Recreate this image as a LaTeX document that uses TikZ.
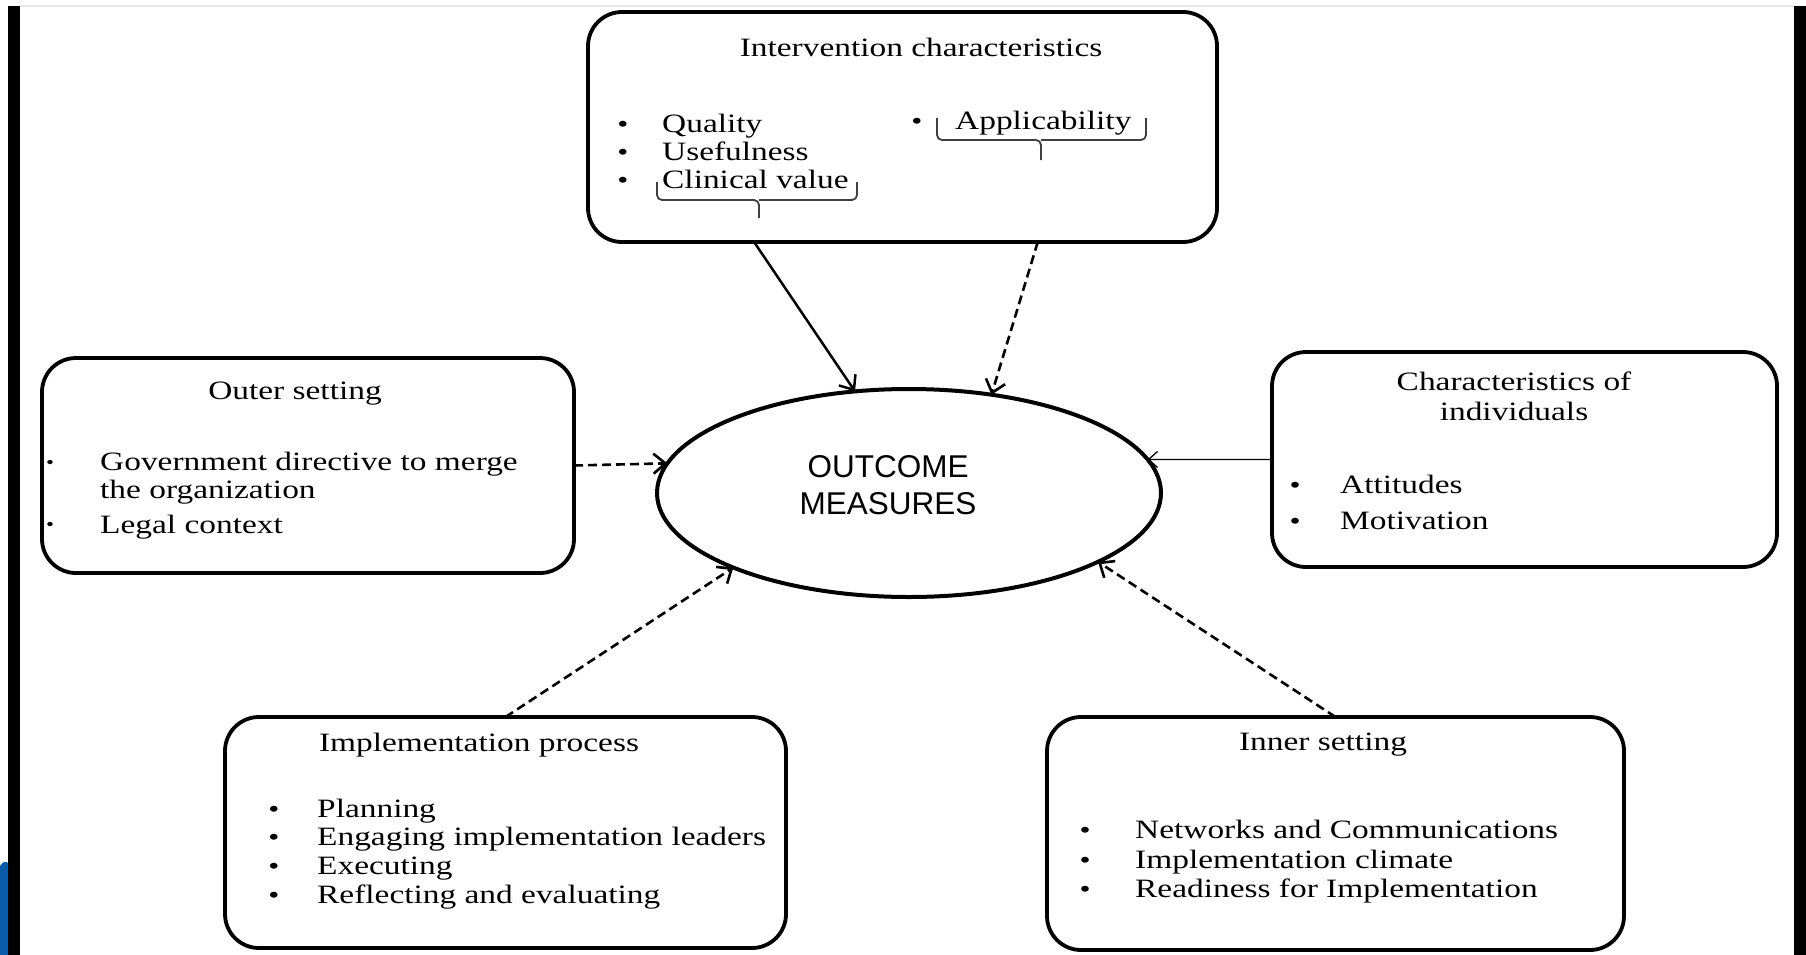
\documentclass[tikz,border=0pt]{standalone}
\usepackage{fontspec}
\setmainfont[FakeStretch=1.26]{Liberation Serif}
\newfontfamily\arialf{Liberation Sans}
\usetikzlibrary{arrows.meta,calc,shapes.geometric}
\definecolor{slideblue}{HTML}{0B5AA8}
\definecolor{topgray}{HTML}{E6E6E6}
\begin{document}
\begin{tikzpicture}[x=1pt,y=-1pt,
  box/.style={draw, line width=3.8pt, rounded corners=34pt, inner sep=0pt, outer sep=0pt, rectangle},
  oval/.style={draw, ellipse, line width=4pt, inner sep=0pt, outer sep=0pt},
  txt/.style={anchor=base west, inner sep=0pt, font=\fontsize{26.5}{29}\selectfont},
  ttl/.style={anchor=base, inner sep=0pt, font=\fontsize{26.5}{29}\selectfont},
  bul/.style={anchor=base, inner sep=0pt, font=\fontsize{25}{29}\selectfont},
  sbul/.style={anchor=base, inner sep=0pt, font=\fontsize{18}{29}\selectfont},
  otxt/.style={anchor=base, inner sep=0pt, font=\arialf\fontsize{31.5}{37}\selectfont},
  brace/.style={draw=black!75, line width=1.8pt, rounded corners=5pt},
  solidarr/.style={line width=2.5pt, -{Straight Barb[length=12pt,width=20pt]}},
  dasharr/.style={line width=2.6pt, dash pattern=on 9pt off 5pt, -{Straight Barb[length=12pt,width=20pt]}},
  thinarr/.style={line width=1.3pt, -{Straight Barb[length=9pt,width=16pt]}}
]
\useasboundingbox (0,0) rectangle (1806,955);
% frame decorations
\fill[white] (0,0) rectangle (1806,955);
\draw[topgray, line width=2pt] (20,6) -- (1794,6);
\fill[black] (8,6) rectangle (20,955);
\fill[black] (1794,6) rectangle (1806,955);
\fill[slideblue] (0,866) .. controls (3,861) and (6,861) .. (8,863) -- (8,955) -- (0,955) -- cycle;

% central ellipse
\node[oval, minimum width=504pt, minimum height=208pt] (outc) at (909,493) {};
\node[otxt] (o1) at (888,477) {OUTCOME};
\node[otxt] (o2) at (888,514) {MEASURES};

% Intervention characteristics
\node[box, minimum width=629pt, minimum height=230pt] (intv) at (902.5,127) {};
\node[ttl] (intvt) at (921,57) {Intervention characteristics};
\node[bul] (ib1) at (623,132) {•};
\node[bul] (ib2) at (623,160) {•};
\node[bul] (ib3) at (623,188) {•};
\node[txt] (it1) at (662,132) {Quality};
\node[txt] (it2) at (662,160) {Usefulness};
\node[txt] (it3) at (662,188) {Clinical value};
\node[bul] (ib4) at (917,130) {•};
\node[txt] (it4) at (955,130) {Applicability};
\draw[brace] (657,182) -- (657,200) -- (759,200) -- (759,218);
\draw[brace] (857,182) -- (857,200) -- (759,200);
\draw[brace] (937,118) -- (937,140) -- (1041,140) -- (1041,160);
\draw[brace] (1146,118) -- (1146,140) -- (1041,140);

% Outer setting
\node[box, minimum width=532pt, minimum height=215pt] (outer) at (308,465.5) {};
\node[ttl] (outt) at (295,399) {Outer setting};
\node[sbul] (ob1) at (50,468) {•};
\node[sbul] (ob2) at (50,530) {•};
\node[txt] (ot1) at (100,470) {Government directive to merge};
\node[txt] (ot2) at (100,498) {the organization};
\node[txt] (ot3) at (100,533) {Legal context};

% Characteristics of individuals
\node[box, minimum width=505pt, minimum height=215pt] (char) at (1524.5,459.5) {};
\node[ttl] (ct1) at (1514,390) {Characteristics of};
\node[ttl] (ct2) at (1514,420) {individuals};
\node[bul] (cb1) at (1295,493) {•};
\node[bul] (cb2) at (1295,529) {•};
\node[txt] (cx1) at (1340,493) {Attitudes};
\node[txt] (cx2) at (1340,529) {Motivation};

% Implementation process
\node[box, minimum width=561pt, minimum height=231pt] (impl) at (505.5,832.5) {};
\node[ttl] (impt) at (479,751) {Implementation process};
\node[bul] (pb1) at (274,817) {•};
\node[bul] (pb2) at (274,845) {•};
\node[bul] (pb3) at (274,874) {•};
\node[bul] (pb4) at (274,903) {•};
\node[txt] (px1) at (317,817) {Planning};
\node[txt] (px2) at (317,845) {Engaging implementation leaders};
\node[txt] (px3) at (317,874) {Executing};
\node[txt] (px4) at (317,903) {Reflecting and evaluating};

% Inner setting
\node[box, minimum width=577pt, minimum height=233pt] (inner) at (1335.5,833.5) {};
\node[ttl] (innt) at (1323,750) {Inner setting};
\node[bul] (nb1) at (1085,838) {•};
\node[bul] (nb2) at (1085,868) {•};
\node[bul] (nb3) at (1085,897) {•};
\node[txt] (nx1) at (1135,838) {Networks and Communications};
\node[txt] (nx2) at (1135,868) {Implementation climate};
\node[txt] (nx3) at (1135,897) {Readiness for Implementation};

% connectors
\draw[solidarr] ($(intv.south west)!0.264!(intv.south east)$) -- (outc.118);
\draw[dasharr] ($(intv.south west)!0.715!(intv.south east)$) -- (outc.50);
\draw[dasharr] (outer.east) -- (outc.173);
\draw[thinarr] (char.west) -- (outc.8);
\draw[dasharr] (impl.north) -- (outc.203);
\draw[dasharr] (inner.north) -- (outc.340);
\end{tikzpicture}
\end{document}
